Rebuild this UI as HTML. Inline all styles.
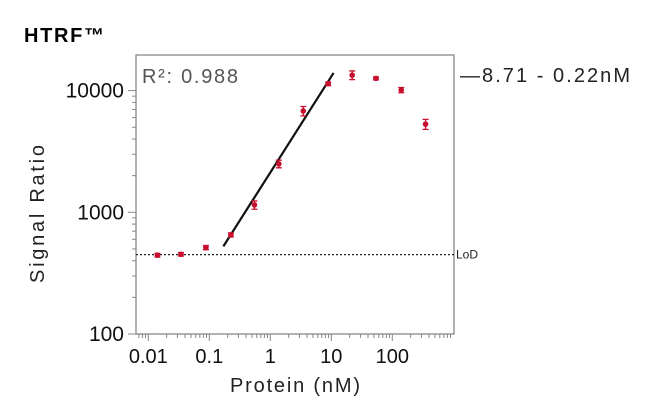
<!DOCTYPE html>
<html><head><meta charset="utf-8"><style>
body{margin:0;background:#fff;}
svg{display:block;font-family:"Liberation Sans",Arial,sans-serif;}
</style></head><body>
<svg id="c" width="648" height="414" viewBox="0 0 648 414">
<text x="24" y="42" font-size="20" font-weight="bold" fill="#000" textLength="80">HTRF™</text>
<text transform="translate(44,214) rotate(-90)" text-anchor="middle" font-size="20" fill="#222" textLength="138">Signal Ratio</text>
<text x="295" y="392" text-anchor="middle" font-size="20" fill="#222" textLength="130">Protein (nM)</text>
<text x="460" y="82" font-size="20" fill="#222" textLength="170">—8.71 - 0.22nM</text>
<text x="142" y="83" font-size="20" fill="#555" textLength="96">R²: 0.988</text>
<g id="g"></g>
</svg>
<script>
const xVals=[0.0141,0.0343,0.088,0.226,0.55,1.38,3.47,8.9,22,54,140,351];
const yVals=[444,452,513,652,1150,2500,6800,11400,13400,12600,10100,5300];
const yErr=[15,15,20,25,90,180,600,400,1100,350,500,500];
const fitX=[0.17,10.9];
const fitY=[525,13970];
const lod=449;
const xTicks=[0.01,0.1,1,10,100];
const xTickLabels=["0.01","0.1","1","10","100"];
const yTicks=[100,1000,10000];
const yTickLabels=["100","1000","10000"];
const L=136,R=454,T=55,B=334;
const xs=v=>148.3+(Math.log10(v)+2)*61;
const ys=v=>334-(Math.log10(v)-2)*121.7;
const NS="http://www.w3.org/2000/svg";
const g=document.getElementById('g');
function mk(t,a){const e=document.createElementNS(NS,t);for(const k in a)e.setAttribute(k,a[k]);g.appendChild(e);return e;}
let e=mk('rect',{x:L,y:T,width:R-L,height:B-T,fill:'none',stroke:'#888','stroke-width':1.3});

for(let d=-3;d<=2;d++)for(let m=1;m<10;m++){const v=m*Math.pow(10,d);const x=xs(v);if(x<L-0.5||x>R+0.5)continue;
 e=mk('line',{x1:x,x2:x,y1:B,y2:B+(m==1?7:4),stroke:'#888','stroke-width':1});
 }
xTicks.forEach((v,i)=>{e=mk('text',{x:xs(v),y:363,'text-anchor':'middle','font-size':20,fill:'#111'});e.textContent=xTickLabels[i];
 });
for(let d=2;d<=4;d++)for(let m=1;m<10;m++){const v=m*Math.pow(10,d);const y=ys(v);if(y<T-0.5)continue;
 e=mk('line',{x1:L,x2:L-(m==1?8:4),y1:y,y2:y,stroke:'#888','stroke-width':1});
 }
yTicks.forEach((v,i)=>{e=mk('text',{x:124,y:ys(v)+7,'text-anchor':'end','font-size':21,fill:'#111'});e.textContent=yTickLabels[i];
 });
e=mk('line',{x1:L,x2:R,y1:ys(lod),y2:ys(lod),stroke:'#222','stroke-width':1.2,'stroke-dasharray':'2,2'});

e=mk('text',{x:R+2,y:ys(lod)+4,'font-size':12,fill:'#222'});e.textContent='LoD';

e=mk('line',{x1:xs(fitX[0]),y1:ys(fitY[0]),x2:xs(fitX[1]),y2:ys(fitY[1]),stroke:'#111','stroke-width':2.2});

xVals.forEach((v,i)=>{const x=xs(v),y=ys(yVals[i]);const y1=ys(yVals[i]+yErr[i]),y2=ys(Math.max(1,yVals[i]-yErr[i]));
 e=mk('path',{d:`M${x},${y1}V${y2}M${x-3},${y1}H${x+3}M${x-3},${y2}H${x+3}`,stroke:'#c8102e','stroke-width':1.3,fill:'none'});
 
 e=mk('circle',{cx:x,cy:y,r:2.8,fill:'#c8102e'});
 });
</script>
</body></html>
